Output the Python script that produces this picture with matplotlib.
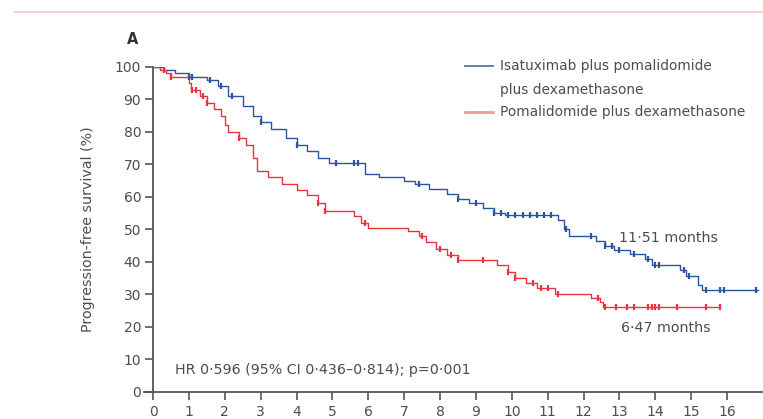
import numpy as np
import matplotlib
matplotlib.use("Agg")
import matplotlib.pyplot as plt
from matplotlib.lines import Line2D

# ---- data ----
blue_t = [0, 0.3, 0.6, 1.0, 1.5, 1.8, 2.1, 2.5, 2.8, 3.0, 3.3, 3.7, 4.0, 4.3, 4.6, 4.9,
          5.9, 6.3, 7.0, 7.3, 7.7, 8.2, 8.5, 8.8, 9.2, 9.5, 9.8, 11.3, 11.45, 11.6,
          12.35, 12.6, 12.85, 13.3, 13.7, 13.9, 14.7, 14.85, 15.2, 15.3]
blue_s = [100, 99, 98, 97, 96, 94, 91, 88, 85, 83, 81, 78, 76, 74, 72, 70.5,
          67, 66, 65, 64, 62.5, 61, 59.5, 58, 56.5, 55, 54.5, 53, 50, 48,
          46.5, 45, 43.5, 42.5, 41, 39, 37.4, 35.5, 33, 31.3]
blue_end = 16.85
blue_cens = [1.0, 1.1, 1.6, 1.9, 2.2, 3.0, 4.0, 5.1, 5.6, 5.7, 7.4, 8.5, 9.0, 9.5, 9.7,
             9.9, 10.1, 10.3, 10.5, 10.7, 10.9, 11.1, 11.5, 12.2, 12.6, 12.8, 13.0,
             13.4, 13.8, 14.0, 14.1, 14.8, 14.95, 15.4, 15.8, 15.9, 16.8]

red_t = [0, 0.2, 0.35, 0.5, 1.0, 1.05, 1.3, 1.5, 1.7, 1.9, 2.0, 2.1, 2.4, 2.6, 2.8, 2.9,
         3.2, 3.6, 4.0, 4.3, 4.6, 4.8, 5.6, 5.8, 6.0, 7.1, 7.4, 7.6, 7.9, 8.2, 8.5,
         9.6, 9.9, 10.1, 10.4, 10.7, 11.2, 12.2, 12.45, 12.55]
red_s = [100, 99, 98, 97, 95, 93, 91, 89, 87, 85, 82, 80, 78, 76, 72, 68,
         66, 64, 62, 60.5, 58, 55.5, 54, 52, 50.5, 49.5, 48, 46, 44, 42, 40.5,
         39, 37, 35, 33.5, 32, 30, 29, 27.5, 26]
red_end = 15.8
red_cens = [0.3, 0.5, 1.1, 1.2, 1.4, 1.5, 2.4, 4.6, 4.8, 5.9, 7.5, 8.0, 8.3, 8.5, 9.2,
            9.9, 10.1, 10.6, 10.8, 11.0, 11.3, 12.4, 12.6, 12.9, 13.2, 13.4, 13.8,
            13.9, 14.0, 14.1, 14.6, 15.4, 15.8]

series_labels = ["Isatuximab plus pomalidomide\nplus dexamethasone",
                 "Pomalidomide plus dexamethasone"]
median_labels = ["11·51 months", "6·47 months"]
hr_text = "HR 0·596 (95% CI 0·436–0·814); p=0·001"
y_ticks = list(range(0, 101, 10))
x_ticks = list(range(0, 17))

BLUE = "#2a55a0"
RED = "#e8343c"
TXT = "#4d4d4d"
FS = 10.3

plt.rcParams['font.family'] = ['DejaVu Sans']

fig = plt.figure(figsize=(7.63, 4.19), dpi=100)
ax = fig.add_axes([153 / 763, 1 - 391.7 / 419, 1 - 153 / 763, (391.7 - 67) / 419])


def surv_at(times, surv, t):
    idx = np.searchsorted(times, t, side='right') - 1
    return np.asarray(surv)[idx]


for t, s, end, cens, col in [(blue_t, blue_s, blue_end, blue_cens, BLUE),
                             (red_t, red_s, red_end, red_cens, RED)]:
    tt = list(t) + [end]
    ss = list(s) + [s[-1]]
    ax.step(tt, ss, where='post', color=col, lw=1.0, zorder=3)
    ax.plot(cens, surv_at(t, s, cens), ls='none', marker='|', ms=4.5, mew=1.6,
            color=col, zorder=4)

ax.set_xlim(0, 17)
ax.set_ylim(0, 100)
ax.set_xticks(x_ticks)
ax.set_yticks(y_ticks)
ax.tick_params(direction='out', length=5.5, width=1.2, color='#555555',
               labelsize=10, labelcolor=TXT)
ax.tick_params(axis='y', pad=3)
ax.tick_params(axis='x', pad=4)
for side in ['top', 'right']:
    ax.spines[side].set_visible(False)
for side in ['left', 'bottom']:
    ax.spines[side].set_linewidth(1.3)
    ax.spines[side].set_color('#555555')
ax.spines['bottom'].set_bounds(-0.25, 17)

ax.set_ylabel("Progression-free survival (%)", fontsize=FS, color=TXT, labelpad=14)

ax.text(0.6, 6.7, hr_text, fontsize=FS, color=TXT, va='center', ha='left')
ax.text(13.0, 47.2, median_labels[0], fontsize=FS, color=TXT, va='center', ha='left')
ax.text(13.05, 19.5, median_labels[1], fontsize=FS, color=TXT, va='center', ha='left')

# legend drawn manually
leg_rows = [(66, BLUE, 1.4, 0.75), (112, RED, 2.0, 0.5)]
for (ypix, col, lw, al), lab in zip(leg_rows, series_labels):
    yf = 1 - ypix / 419
    fig.add_artist(Line2D([465 / 763, 493 / 763], [yf, yf], color=col, lw=lw, alpha=al,
                          transform=fig.transFigure))
    for k, line in enumerate(lab.split("\n")):
        fig.text(500 / 763, 1 - (ypix + 23.5 * k) / 419, line, fontsize=9.9,
                 color=TXT, va='center', ha='left')

fig.text(133 / 763, 1 - 40 / 419, "A", fontsize=10.5, fontweight='bold', color='#333333',
         va='center', ha='center')
fig.add_artist(Line2D([15 / 763, 1], [1 - 12 / 419, 1 - 12 / 419], color='#f3c4d0',
                      lw=1.2, transform=fig.transFigure))

fig.savefig("out.png", dpi=100)
